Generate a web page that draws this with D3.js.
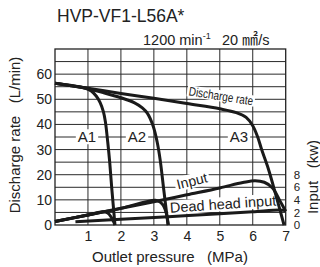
<!DOCTYPE html>
<html>
<head>
<meta charset="utf-8">
<script src="https://cdn.jsdelivr.net/npm/d3@7"></script>
<style>
    body { margin: 0; background: #fff; }
    svg { display: block; font-family: "Liberation Sans", Arial, sans-serif; }
    .tick text { fill: #222; }
</style>
</head>
<body>
<svg id="chart" width="320" height="267"></svg>
<script>
const title = "HVP-VF1-L56A*"
const pressureTicks = [1, 2, 3, 4, 5, 6, 7]
const dischargeTicks = [0, 10, 20, 30, 40, 50, 60]
const inputTicks = [0, 2, 4, 6, 8]

// [MPa, L/min]
const dischargeA1 = [[0, 56.4], [0.9, 54.5], [1.1, 53.3], [1.25, 51.3], [1.37, 48.7], [1.47, 45], [1.53, 41], [1.6, 33], [1.66, 25], [1.72, 15], [1.82, 0]]
const dischargeA2 = [[0, 56.4], [0.9, 54.5], [1.5, 52.5], [2, 50.6], [2.4, 48.7], [2.65, 46.6], [2.8, 44.5], [2.98, 39.3], [3.1, 33], [3.19, 26], [3.3, 14], [3.43, 0]]
const dischargeA3 = [[0, 56.4], [1, 54.4], [2, 52.3], [3, 50.4], [4, 48.3], [5, 46.2], [5.5, 44.7], [5.8, 42.8], [6, 39.5], [6.15, 35], [6.27, 30], [6.47, 22.5], [6.7, 12], [6.95, 0]]

// [MPa, kW]
const inputA1 = [[0, 0.55], [1, 1.6], [1.45, 2.1], [1.6, 1.9], [1.7, 1.3], [1.78, 0.5], [1.82, 0]]
const inputA2 = [[0, 0.55], [1, 1.6], [2, 2.65], [3.05, 3.95], [3.2, 3.6], [3.3, 3.0], [3.38, 1.8], [3.44, 0]]
const inputA3 = [[0, 0.55], [1, 1.6], [2, 2.65], [3, 3.7], [4, 4.8], [5, 5.9], [5.7, 6.75], [6.07, 7.05], [6.35, 6.8], [6.6, 5.9], [6.83, 3.8], [7, 2.2]]
const deadHeadInput = [[0.62, 0.52], [2, 0.92], [3.44, 1.32], [5, 1.8], [6, 2.1], [6.8, 2.38], [7, 2.3]]

const svg = d3.select("#chart")

const x = d3.scaleLinear([0, 7], [55, 285.7])
const y = d3.scaleLinear([0, 70], [225, 49])
const yKw = d3.scaleLinear([0, 28], [225, 49])

// grid
svg.append("g")
    .selectAll("line")
    .data(d3.range(1, 7))
    .enter().append("line")
    .attr("x1", d => x(d)).attr("x2", d => x(d))
    .attr("y1", y(0)).attr("y2", y(70))
    .attr("stroke", "#2a2a2a").attr("stroke-width", 1)

svg.append("g")
    .selectAll("line")
    .data(d3.range(5, 70, 5))
    .enter().append("line")
    .attr("x1", x(0)).attr("x2", x(7))
    .attr("y1", d => y(d)).attr("y2", d => y(d))
    .attr("stroke", "#2a2a2a").attr("stroke-width", 1)

svg.append("rect")
    .attr("x", x(0)).attr("y", y(70))
    .attr("width", x(7) - x(0)).attr("height", y(0) - y(70))
    .attr("fill", "none").attr("stroke", "#222").attr("stroke-width", 1.3)

// axes
const leftAxis = svg.append("g")
    .attr("transform", `translate(${x(0)},0)`)
    .call(d3.axisLeft(y).tickValues(dischargeTicks).tickSize(0).tickPadding(3))
leftAxis.select(".domain").remove()
leftAxis.selectAll("text").attr("font-size", 14).attr("font-family", "Liberation Sans, Arial, sans-serif")

const bottomAxis = svg.append("g")
    .attr("transform", `translate(0,${y(0)})`)
    .call(d3.axisBottom(x).tickValues(pressureTicks).tickFormat(d3.format("d")).tickSize(0).tickPadding(6))
bottomAxis.select(".domain").remove()
bottomAxis.selectAll("text").attr("font-size", 14).attr("font-family", "Liberation Sans, Arial, sans-serif")

const rightAxis = svg.append("g")
    .attr("transform", `translate(${x(7)},0)`)
    .call(d3.axisRight(yKw).tickValues(inputTicks).tickSize(0).tickPadding(8))
rightAxis.select(".domain").remove()
rightAxis.selectAll("text").attr("font-size", 11.5).attr("font-family", "Liberation Sans, Arial, sans-serif")

// titles
svg.append("text")
    .attr("x", 57).attr("y", 22)
    .attr("font-size", 17.5).attr("fill", "#222")
    .text(title)

const sub = svg.append("text")
    .attr("x", 143).attr("y", 45)
    .attr("font-size", 14.5).attr("fill", "#222")
sub.append("tspan").text("1200 min")
sub.append("tspan").attr("font-size", 9).attr("dy", -6).text("-1")
sub.append("tspan").attr("dy", 6).text("\u2002 20 ")
sub.append("tspan").attr("font-family", "Noto Sans CJK JP").attr("font-size", 16).text("\u339F")
sub.append("tspan").text("/s")

svg.append("text")
    .attr("transform", "translate(20,135) rotate(-90)")
    .attr("text-anchor", "middle")
    .attr("font-size", 15).attr("fill", "#222")
    .attr("xml:space", "preserve")
    .text("Discharge rate   (L/min)")

svg.append("text")
    .attr("x", 170).attr("y", 262)
    .attr("text-anchor", "middle")
    .attr("font-size", 15).attr("fill", "#222")
    .attr("xml:space", "preserve")
    .text("Outlet pressure   (MPa)")

svg.append("text")
    .attr("transform", "translate(318,177) rotate(-90)")
    .attr("text-anchor", "middle")
    .attr("font-size", 15).attr("fill", "#222")
    .attr("xml:space", "preserve")
    .text("Input   (kw)")

// labels with white background
function boxedLabel(cx, cy, text, size, angle, sx) {
    const g = svg.append("g")
        .attr("transform", `translate(${cx},${cy}) rotate(${angle}) scale(${sx},1)`)
    const bg = g.append("rect").attr("fill", "#fff")
    const t = g.append("text")
        .attr("text-anchor", "middle")
        .attr("dy", "0.35em")
        .attr("font-size", size).attr("fill", "#222")
        .text(text)
    const b = t.node().getBBox()
    bg.attr("x", b.x - 2).attr("y", b.y + 1).attr("width", b.width + 4).attr("height", b.height - 2)
}

boxedLabel(87, y(35), "A1", 15, 0, 1)
boxedLabel(137, y(35), "A2", 15, 0, 1)
boxedLabel(239, y(35), "A3", 15, 0, 1)
boxedLabel(221, 96, "Discharge rate", 12.5, 9, 0.8)
boxedLabel(192, 181, "Input", 14, -14, 1)
boxedLabel(223, 204, "Dead head input", 14.5, -4, 1)

// curves
const flowLine = d3.line()
    .x(d => x(d[0]))
    .y(d => y(d[1]))
    .curve(d3.curveCatmullRom.alpha(0.5))

const kwLine = d3.line()
    .x(d => x(d[0]))
    .y(d => yKw(d[1]))
    .curve(d3.curveCatmullRom.alpha(0.5))

svg.append("g")
    .selectAll("path")
    .data([dischargeA1, dischargeA2, dischargeA3])
    .enter().append("path")
    .attr("d", flowLine)
    .attr("fill", "none").attr("stroke", "#1a1a1a").attr("stroke-width", 3)

svg.append("g")
    .selectAll("path")
    .data([inputA1, inputA2, inputA3, deadHeadInput])
    .enter().append("path")
    .attr("d", kwLine)
    .attr("fill", "none").attr("stroke", "#1a1a1a").attr("stroke-width", 3)
</script>
</body>
</html>
